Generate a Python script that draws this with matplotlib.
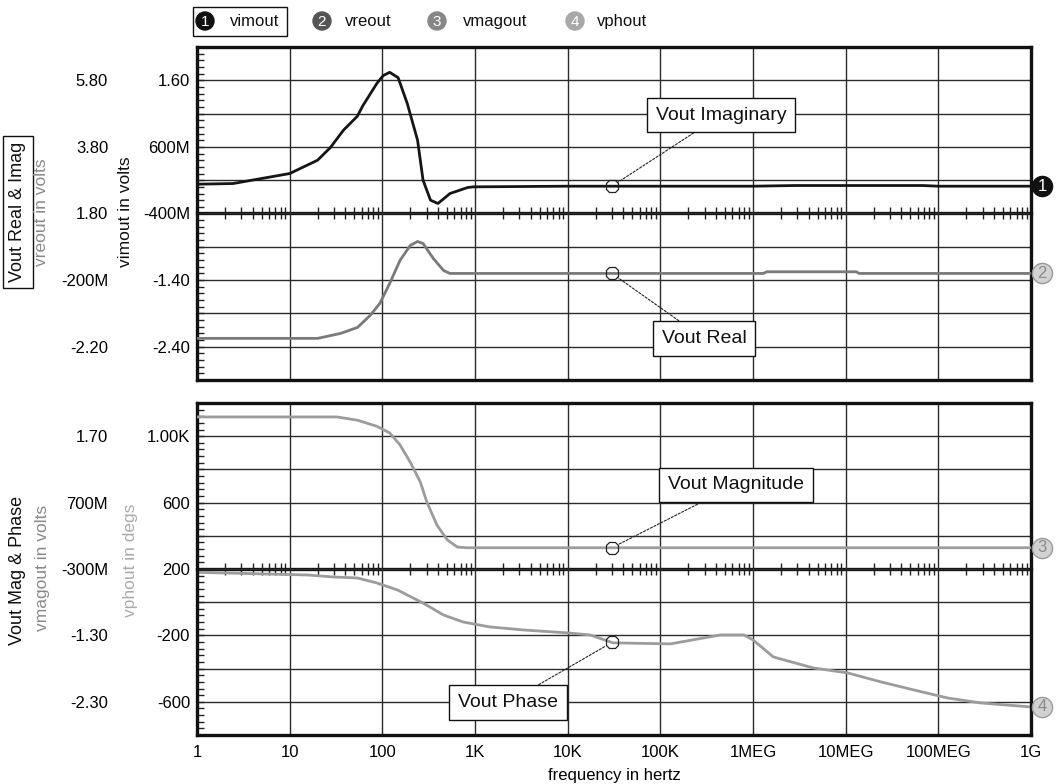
import numpy as np
import matplotlib
matplotlib.use("Agg")
import matplotlib.pyplot as plt
import matplotlib.transforms as mtrans
from matplotlib.ticker import (FixedLocator, FixedFormatter, FuncFormatter, MultipleLocator,
                               AutoMinorLocator, LogLocator, NullFormatter, NullLocator)
from matplotlib.patches import Circle, Rectangle

plt.rcParams['font.family'] = ['Liberation Sans', 'DejaVu Sans']

# ---------------- data ----------------
vimout_freq = [1, 2.45, 10, 20, 27.5, 38, 53.7, 61.7, 87, 102, 120, 148, 186, 240, 275, 331,
               398, 537, 832, 955, 1e4, 1e5, 1e6, 2.8e6, 6.8e7, 1e8, 1e9]
vimout_val = [0.04, 0.05, 0.20, 0.40, 0.59, 0.85, 1.06, 1.22, 1.55, 1.67, 1.72, 1.64, 1.25, 0.70,
              0.10, -0.20, -0.25, -0.10, -0.01, 0.0, 0.01, 0.01, 0.01, 0.02, 0.02, 0.01, 0.01]

vreout_freq = [1, 20, 35.5, 54, 74, 94, 120, 155, 200, 240, 275, 355, 457, 537, 1e4, 1e5,
               1.3e6, 1.4e6, 1.3e7, 1.4e7, 1e8, 1e9]
vreout_val = [-1.95, -1.95, -1.80, -1.62, -1.26, -0.90, -0.30, 0.39, 0.84, 0.96, 0.90, 0.45,
              0.09, 0.0, 0.0, 0.0, 0.0, 0.05, 0.05, 0.0, 0.0, 0.0]

vmagout_freq = [1, 32.5, 54, 87, 120, 155, 200, 257, 302, 389, 501, 646, 832, 1e4, 1e6, 1e9]
vmagout_val = [1.99, 1.99, 1.94, 1.85, 1.75, 1.57, 1.31, 1.01, 0.71, 0.36, 0.14, 0.03, 0.02,
               0.02, 0.02, 0.02]

vphout_freq = [1, 15.5, 29.5, 53.7, 87, 145, 275, 457, 741, 1445, 3311, 1e4, 17400, 30900,
               1.29e5, 4.47e5, 7.94e5, 1e6, 1.66e6, 4.47e6, 1.05e7, 2.4e7, 5.37e7, 1.26e8,
               2.88e8, 1e9]
vphout_val = [180, 164, 152, 146, 116, 74, -5, -77, -119, -149, -167, -185, -197, -245, -251,
              -197, -197, -227, -330, -396, -426, -480, -528, -577, -607, -631]

x_ticks = [1, 10, 100, 1e3, 1e4, 1e5, 1e6, 1e7, 1e8, 1e9]
x_labels = ['1', '10', '100', '1K', '10K', '100K', '1MEG', '10MEG', '100MEG', '1G']

vimout_ticks = [1.6, 0.6, -0.4, -1.4, -2.4]
vimout_labels = ['1.60', '600M', '-400M', '-1.40', '-2.40']
vreout_ticks = [5.8, 3.8, 1.8, -0.2, -2.2]
vreout_labels = ['5.80', '3.80', '1.80', '-200M', '-2.20']
vphout_ticks = [1000, 600, 200, -200, -600]
vphout_labels = ['1.00K', '600', '200', '-200', '-600']
vmagout_ticks = [1.7, 0.7, -0.3, -1.3, -2.3]
vmagout_labels = ['1.70', '700M', '-300M', '-1.30', '-2.30']

marker_freq = 3e4

# ---------------- figure ----------------
W, H = 1058, 784
fig = plt.figure(figsize=(W / 100, H / 100), dpi=100)


def px_rect(x0, y0, x1, y1):
    return [x0 / W, 1 - y1 / H, (x1 - x0) / W, (y1 - y0) / H]


GRID = '#2b2b2b'
FS = 12


def make_fmt(vals, labels):
    def f(v, pos):
        for a, l in zip(vals, labels):
            if abs(v - a) < 1e-6 * max(1.0, abs(a)):
                return l
        return ''
    return FuncFormatter(f)


def setup_panel(ax, ylim, step, ticks, labels, ylim2, ticks2, labels2, show_x):
    ax.set_xscale('log')
    ax.set_xlim(x_ticks[0], x_ticks[-1])
    ax.set_ylim(*ylim)
    ax.xaxis.set_major_locator(FixedLocator(x_ticks))
    ax.xaxis.set_minor_locator(NullLocator())
    if show_x:
        ax.xaxis.set_major_formatter(FixedFormatter(x_labels))
    else:
        ax.xaxis.set_major_formatter(NullFormatter())
    ax.yaxis.set_major_locator(MultipleLocator(step, offset=ticks[0] % step))
    ax.yaxis.set_minor_locator(AutoMinorLocator(5))
    ax.yaxis.set_major_formatter(make_fmt(ticks, labels))
    ax.grid(True, which='major', color=GRID, lw=1.0)
    ax.set_axisbelow(True)
    ax.tick_params(axis='y', which='both', direction='in', length=5, width=1.0,
                   color='#222222', pad=5, labelsize=FS)
    ax.tick_params(axis='x', which='both', length=0, pad=7, labelsize=FS)
    for s in ax.spines.values():
        s.set_linewidth(2.4)
        s.set_color('#111111')
        s.set_zorder(5)
    ax2 = ax.twinx()
    ax2.set_ylim(*ylim2)
    ax2.yaxis.tick_left()
    ax2.yaxis.set_major_locator(FixedLocator(ticks2))
    ax2.yaxis.set_major_formatter(FixedFormatter(labels2))
    ax2.yaxis.set_minor_locator(NullLocator())
    ax2.tick_params(axis='y', length=0, pad=64, labelsize=FS)
    for s in ax2.spines.values():
        s.set_visible(False)
    # middle axis with log minor ticks
    sec = ax.secondary_xaxis(0.5)
    sec.xaxis.set_major_locator(FixedLocator(x_ticks))
    sec.xaxis.set_major_formatter(NullFormatter())
    sec.xaxis.set_minor_locator(LogLocator(base=10, subs=np.arange(2, 10), numticks=30))
    sec.xaxis.set_minor_formatter(NullFormatter())
    sec.tick_params(which='major', length=0)
    sec.tick_params(which='minor', direction='inout', length=8, width=1.0, color='#222222')
    for s in sec.spines.values():
        s.set_linewidth(2.4)
        s.set_color('#111111')
    return ax2


ax_top = fig.add_axes(px_rect(197, 47, 1031, 380))
ax_bot = fig.add_axes(px_rect(197, 403, 1031, 735))

ax_top2 = setup_panel(ax_top, (-2.9, 2.1), 0.5, vimout_ticks, vimout_labels,
                      (-3.2, 6.8), vreout_ticks, vreout_labels, False)
ax_bot2 = setup_panel(ax_bot, (-800, 1200), 200, vphout_ticks, vphout_labels,
                      (-2.8, 2.2), vmagout_ticks, vmagout_labels, True)
ax_bot.set_xlabel('frequency in hertz', fontsize=FS, labelpad=6)

C_IM = '#151515'
C_RE = '#7a7a7a'
C_MAG = '#9c9c9c'
C_PH = '#9c9c9c'

ax_top.plot(vimout_freq, vimout_val, color=C_IM, lw=2.0, zorder=3)
ax_top2.plot(vreout_freq, vreout_val, color=C_RE, lw=2.0, zorder=3)
ax_bot2.plot(vmagout_freq, vmagout_val, color=C_MAG, lw=2.0, zorder=3)
ax_bot.plot(vphout_freq, vphout_val, color=C_PH, lw=2.0, zorder=3)


# ---------- end markers ----------
def end_marker(ax, fx, fy, num, fc, ec, tc):
    tr = mtrans.offset_copy(ax.transData, fig=fig, x=11, y=0, units='dots')
    ax.plot([fx[-1]], [fy[-1]], 'o', ms=14.5, mfc=fc, mec=ec, mew=1.0, transform=tr,
            clip_on=False, zorder=8)
    ax.text(fx[-1], fy[-1], num, transform=tr, ha='center', va='center', color=tc,
            fontsize=12, clip_on=False, zorder=9)


end_marker(ax_top, vimout_freq, vimout_val, '1', '#111111', '#111111', 'white')
end_marker(ax_top2, vreout_freq, vreout_val, '2', '#d2d2d2', '#9a9a9a', '#8a8a8a')
end_marker(ax_bot2, vmagout_freq, vmagout_val, '3', '#d2d2d2', '#9a9a9a', '#8a8a8a')
end_marker(ax_bot, vphout_freq, vphout_val, '4', '#d2d2d2', '#9a9a9a', '#8a8a8a')


# ---------- callouts ----------
def callout(ax, fx, fy, text, dx, dy):
    y = np.interp(np.log10(marker_freq), np.log10(fx), fy)
    ax.plot([marker_freq], [y], marker='8', ms=10, mfc='none', mec='#222222', mew=0.9,
            zorder=6, linestyle='none')
    ax.annotate(text, xy=(marker_freq, y), xytext=(dx, dy), textcoords='offset pixels',
                ha='center', va='center', fontsize=14, color='#111111', zorder=7,
                bbox=dict(boxstyle='square,pad=0.45', fc='white', ec='#111111', lw=1.0),
                arrowprops=dict(arrowstyle='-', ls=(0, (2, 1.5)), lw=0.8, color='#222222',
                                shrinkA=0, shrinkB=5),
                annotation_clip=False)


callout(ax_top, vimout_freq, vimout_val, 'Vout Imaginary', 109, 71)
callout(ax_top2, vreout_freq, vreout_val, 'Vout Real', 92, -65)
callout(ax_bot2, vmagout_freq, vmagout_val, 'Vout Magnitude', 124, 63)
callout(ax_bot, vphout_freq, vphout_val, 'Vout Phase', -104, -60)

# ---------- overlay for legend and axis titles ----------
ov = fig.add_axes([0, 0, 1, 1], zorder=10)
ov.set_xlim(0, W)
ov.set_ylim(H, 0)
ov.axis('off')

legend_items = [('1', 'vimout', '#111111', 205, 230),
                ('2', 'vreout', '#555555', 322, 345),
                ('3', 'vmagout', '#878787', 437, 463),
                ('4', 'vphout', '#a8a8a8', 575, 597)]
for num, name, col, cx, tx in legend_items:
    ov.add_patch(Circle((cx, 21), 9, fc=col, ec=col))
    ov.text(cx, 21.5, num, ha='center', va='center', color='white', fontsize=11)
    ov.text(tx, 21, name, ha='left', va='center', color='#111111', fontsize=FS)
ov.add_patch(Rectangle((193, 7), 94, 29, fill=False, ec='#111111', lw=1.0))

ov.text(18, 212, 'Vout Real & Imag', rotation=90, ha='center', va='center', fontsize=13,
        color='#111111', bbox=dict(boxstyle='square,pad=0.35', fc='white', ec='#111111', lw=1.0))
ov.text(42, 212, 'vreout in volts', rotation=90, ha='center', va='center', fontsize=12.5,
        color='#8a8a8a')
ov.text(125, 212, 'vimout in volts', rotation=90, ha='center', va='center', fontsize=12.5,
        color='#111111')
ov.text(18, 570, 'Vout Mag & Phase', rotation=90, ha='center', va='center', fontsize=13,
        color='#111111')
ov.text(43, 568, 'vmagout in volts', rotation=90, ha='center', va='center', fontsize=12.5,
        color='#8a8a8a')
ov.text(130, 560, 'vphout in degs', rotation=90, ha='center', va='center', fontsize=12.5,
        color='#ababab')

fig.savefig('out.png', dpi=100)
